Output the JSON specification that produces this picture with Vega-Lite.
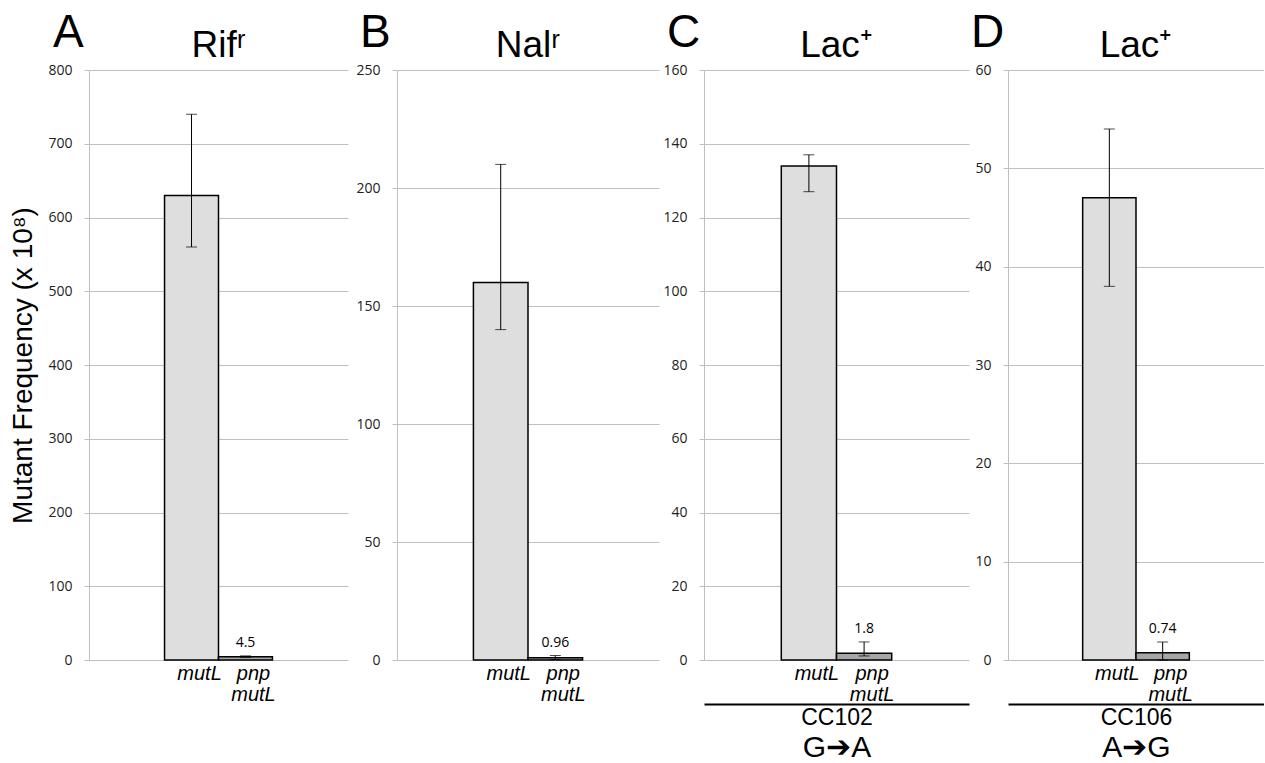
{
  "$schema": "https://vega.github.io/schema/vega-lite/v6.json",
  "padding": {"left": 9, "top": 10, "right": 0, "bottom": 0},
  "background": "white",
  "data": {"values": [
    {"panel": "A", "strain": "mutL", "value": 630, "lo": 560, "hi": 740, "label": null},
    {"panel": "A", "strain": "pnp mutL", "value": 4.5, "lo": 3.6, "hi": 5.6, "label": "4.5"},
    {"panel": "B", "strain": "mutL", "value": 160, "lo": 140, "hi": 210, "label": null},
    {"panel": "B", "strain": "pnp mutL", "value": 0.96, "lo": 0.2, "hi": 1.9, "label": "0.96"},
    {"panel": "C", "strain": "mutL", "value": 134, "lo": 127, "hi": 137, "label": null},
    {"panel": "C", "strain": "pnp mutL", "value": 1.8, "lo": 1.1, "hi": 4.9, "label": "1.8"},
    {"panel": "D", "strain": "mutL", "value": 47, "lo": 38, "hi": 54, "label": null},
    {"panel": "D", "strain": "pnp mutL", "value": 0.74, "lo": 0.0, "hi": 1.83, "label": "0.74"}
  ]},
  "spacing": 0,
  "hconcat": [
    {
      "title": {"text": "A", "anchor": "start", "fontSize": 46, "offset": -30, "dx": 43},
      "vconcat": [{
        "width": 259, "height": 590,
        "title": {"text": "Rifʳ", "fontSize": 37, "offset": -2},
        "transform": [{"filter": "datum.panel == 'A'"}],
        "encoding": {"x": {"field": "strain", "type": "nominal", "scale": {"domain": ["_l", "mutL", "pnp mutL", "_r"], "paddingInner": 0, "paddingOuter": 0.4},
          "axis": {"title": null, "labelExpr": "indexof(datum.label, '_') == 0 ? '' : split(datum.label, ' ')", "labelAngle": 0, "labelFont": "Liberation Sans", "labelFontStyle": "italic", "labelFontSize": 20, "labelLineHeight": 21, "labelColor": "black", "labelPadding": 3, "labelOffset": 8, "domain": false, "ticks": false, "grid": false}}},
        "layer": [
          {"mark": {"type": "bar", "stroke": "black", "strokeWidth": 1.5},
           "encoding": {"y": {"field": "value", "type": "quantitative", "title": "Mutant Frequency (x 10⁸)", "scale": {"domain": [0, 800], "nice": false}, "axis": {"values": [0, 100, 200, 300, 400, 500, 600, 700, 800]}},
             "color": {"field": "strain", "type": "nominal", "scale": {"domain": ["mutL", "pnp mutL"], "range": ["#dedede", "#a6a6a6"]}, "legend": null}}},
          {"mark": {"type": "errorbar", "ticks": {"size": 11}, "color": "black", "strokeWidth": 1.2},
           "encoding": {"y": {"field": "lo", "type": "quantitative", "title": "Mutant Frequency (x 10⁸)"}, "y2": {"field": "hi"}}},
          {"transform": [{"filter": {"field": "label", "valid": true}}],
           "mark": {"type": "text", "baseline": "bottom", "dy": -6, "font": "Open Sans", "fontSize": 14, "color": "black"},
           "encoding": {"y": {"field": "hi", "type": "quantitative", "title": "Mutant Frequency (x 10⁸)"}, "text": {"field": "label"}}}
        ]
      }]
    },
    {
      "title": {"text": "B", "anchor": "start", "fontSize": 46, "offset": -30, "dx": 12},
      "vconcat": [{
        "width": 262, "height": 590,
        "title": {"text": "Nalʳ", "fontSize": 37, "offset": -2},
        "transform": [{"filter": "datum.panel == 'B'"}],
        "encoding": {"x": {"field": "strain", "type": "nominal", "scale": {"domain": ["_l", "mutL", "pnp mutL", "_r"], "paddingInner": 0, "paddingOuter": 0.4},
          "axis": {"title": null, "labelExpr": "indexof(datum.label, '_') == 0 ? '' : split(datum.label, ' ')", "labelAngle": 0, "labelFont": "Liberation Sans", "labelFontStyle": "italic", "labelFontSize": 20, "labelLineHeight": 21, "labelColor": "black", "labelPadding": 3, "labelOffset": 8, "domain": false, "ticks": false, "grid": false}}},
        "layer": [
          {"mark": {"type": "bar", "stroke": "black", "strokeWidth": 1.5},
           "encoding": {"y": {"field": "value", "type": "quantitative", "title": null, "scale": {"domain": [0, 250], "nice": false}, "axis": {"values": [0, 50, 100, 150, 200, 250], "minExtent": 49}},
             "color": {"field": "strain", "type": "nominal", "scale": {"domain": ["mutL", "pnp mutL"], "range": ["#dedede", "#a6a6a6"]}, "legend": null}}},
          {"mark": {"type": "errorbar", "ticks": {"size": 11}, "color": "black", "strokeWidth": 1.2},
           "encoding": {"y": {"field": "lo", "type": "quantitative", "title": null}, "y2": {"field": "hi"}}},
          {"transform": [{"filter": {"field": "label", "valid": true}}],
           "mark": {"type": "text", "baseline": "bottom", "dy": -6, "font": "Open Sans", "fontSize": 14, "color": "black"},
           "encoding": {"y": {"field": "hi", "type": "quantitative", "title": null}, "text": {"field": "label"}}}
        ]
      }]
    },
    {
      "title": {"text": "C", "anchor": "start", "fontSize": 46, "offset": -30, "dx": 8},
      "vconcat": [{
        "width": 265, "height": 590,
        "title": {"text": "Lac⁺", "fontSize": 37, "offset": -2},
        "transform": [{"filter": "datum.panel == 'C'"}],
        "resolve": {"axis": {"x": "independent"}},
        "layer": [
          {"mark": {"type": "bar", "stroke": "black", "strokeWidth": 1.5},
           "encoding": {
             "x": {"field": "strain", "type": "nominal", "scale": {"domain": ["_l", "mutL", "pnp mutL", "_r"], "paddingInner": 0, "paddingOuter": 0.4},
               "axis": {"orient": "bottom", "title": null, "labelExpr": "indexof(datum.label, '_') == 0 ? '' : split(datum.label, ' ')", "labelAngle": 0, "labelFont": "Liberation Sans", "labelFontStyle": "italic", "labelFontSize": 20, "labelLineHeight": 21, "labelColor": "black", "labelPadding": 3, "labelOffset": 8, "domain": false, "ticks": false, "grid": false}},
             "y": {"field": "value", "type": "quantitative", "title": null, "scale": {"domain": [0, 160], "nice": false}, "axis": {"values": [0, 20, 40, 60, 80, 100, 120, 140, 160], "minExtent": 45}},
             "color": {"field": "strain", "type": "nominal", "scale": {"domain": ["mutL", "pnp mutL"], "range": ["#dedede", "#a6a6a6"]}, "legend": null}}},
          {"mark": {"type": "errorbar", "ticks": {"size": 11}, "color": "black", "strokeWidth": 1.2},
           "encoding": {
             "x": {"field": "strain", "type": "nominal", "scale": {"domain": ["_l", "mutL", "pnp mutL", "_r"], "paddingInner": 0, "paddingOuter": 0.4},
               "axis": {"orient": "bottom", "offset": 44, "domain": true, "domainColor": "black", "domainWidth": 2, "labels": false, "ticks": false, "grid": false, "title": "CC102", "titleFont": "Liberation Sans", "titleFontWeight": "normal", "titleFontSize": 23, "titleColor": "black", "titlePadding": 2}},
             "y": {"field": "lo", "type": "quantitative", "title": null}, "y2": {"field": "hi"}}},
          {"transform": [{"filter": {"field": "label", "valid": true}}],
           "mark": {"type": "text", "baseline": "bottom", "dy": -6, "font": "Open Sans", "fontSize": 14, "color": "black"},
           "encoding": {
             "x": {"field": "strain", "type": "nominal", "scale": {"domain": ["_l", "mutL", "pnp mutL", "_r"], "paddingInner": 0, "paddingOuter": 0.4},
               "axis": {"orient": "bottom", "offset": 72, "domain": false, "labels": false, "ticks": false, "grid": false, "title": "G➔A", "titleFont": "Liberation Sans", "titleFontWeight": "normal", "titleFontSize": 30, "titleColor": "black", "titlePadding": 0}},
             "y": {"field": "hi", "type": "quantitative", "title": null}, "text": {"field": "label"}}}
        ]
      }]
    },
    {
      "title": {"text": "D", "anchor": "start", "fontSize": 46, "offset": -30, "dx": 2},
      "vconcat": [{
        "width": 256, "height": 590,
        "title": {"text": "Lac⁺", "fontSize": 37, "offset": -2},
        "transform": [{"filter": "datum.panel == 'D'"}],
        "resolve": {"axis": {"x": "independent"}},
        "layer": [
          {"mark": {"type": "bar", "stroke": "black", "strokeWidth": 1.5},
           "encoding": {
             "x": {"field": "strain", "type": "nominal", "scale": {"domain": ["_l", "mutL", "pnp mutL", "_r"], "paddingInner": 0, "paddingOuter": 0.4},
               "axis": {"orient": "bottom", "title": null, "labelExpr": "indexof(datum.label, '_') == 0 ? '' : split(datum.label, ' ')", "labelAngle": 0, "labelFont": "Liberation Sans", "labelFontStyle": "italic", "labelFontSize": 20, "labelLineHeight": 21, "labelColor": "black", "labelPadding": 3, "labelOffset": 8, "domain": false, "ticks": false, "grid": false}},
             "y": {"field": "value", "type": "quantitative", "title": null, "scale": {"domain": [0, 60], "nice": false}, "axis": {"values": [0, 10, 20, 30, 40, 50, 60], "minExtent": 39}},
             "color": {"field": "strain", "type": "nominal", "scale": {"domain": ["mutL", "pnp mutL"], "range": ["#dedede", "#a6a6a6"]}, "legend": null}}},
          {"mark": {"type": "errorbar", "ticks": {"size": 11}, "color": "black", "strokeWidth": 1.2},
           "encoding": {
             "x": {"field": "strain", "type": "nominal", "scale": {"domain": ["_l", "mutL", "pnp mutL", "_r"], "paddingInner": 0, "paddingOuter": 0.4},
               "axis": {"orient": "bottom", "offset": 44, "domain": true, "domainColor": "black", "domainWidth": 2, "labels": false, "ticks": false, "grid": false, "title": "CC106", "titleFont": "Liberation Sans", "titleFontWeight": "normal", "titleFontSize": 23, "titleColor": "black", "titlePadding": 2}},
             "y": {"field": "lo", "type": "quantitative", "title": null}, "y2": {"field": "hi"}}},
          {"transform": [{"filter": {"field": "label", "valid": true}}],
           "mark": {"type": "text", "baseline": "bottom", "dy": -6, "font": "Open Sans", "fontSize": 14, "color": "black"},
           "encoding": {
             "x": {"field": "strain", "type": "nominal", "scale": {"domain": ["_l", "mutL", "pnp mutL", "_r"], "paddingInner": 0, "paddingOuter": 0.4},
               "axis": {"orient": "bottom", "offset": 72, "domain": false, "labels": false, "ticks": false, "grid": false, "title": "A➔G", "titleFont": "Liberation Sans", "titleFontWeight": "normal", "titleFontSize": 30, "titleColor": "black", "titlePadding": 0}},
             "y": {"field": "hi", "type": "quantitative", "title": null}, "text": {"field": "label"}}}
        ]
      }]
    }
  ],
  "config": {
    "view": {"stroke": null},
    "title": {"font": "Liberation Sans", "fontWeight": "normal", "color": "black"},
    "axisY": {"domainColor": "#bfbfbf", "tickColor": "#bfbfbf", "tickSize": 5, "gridColor": "#bfbfbf", "gridWidth": 1, "labelFont": "Open Sans", "labelFontSize": 14, "labelColor": "#222222", "labelPadding": 12,
      "titleFont": "Liberation Sans", "titleFontWeight": "normal", "titleFontSize": 28, "titleColor": "black", "titlePadding": 10}
  }
}
